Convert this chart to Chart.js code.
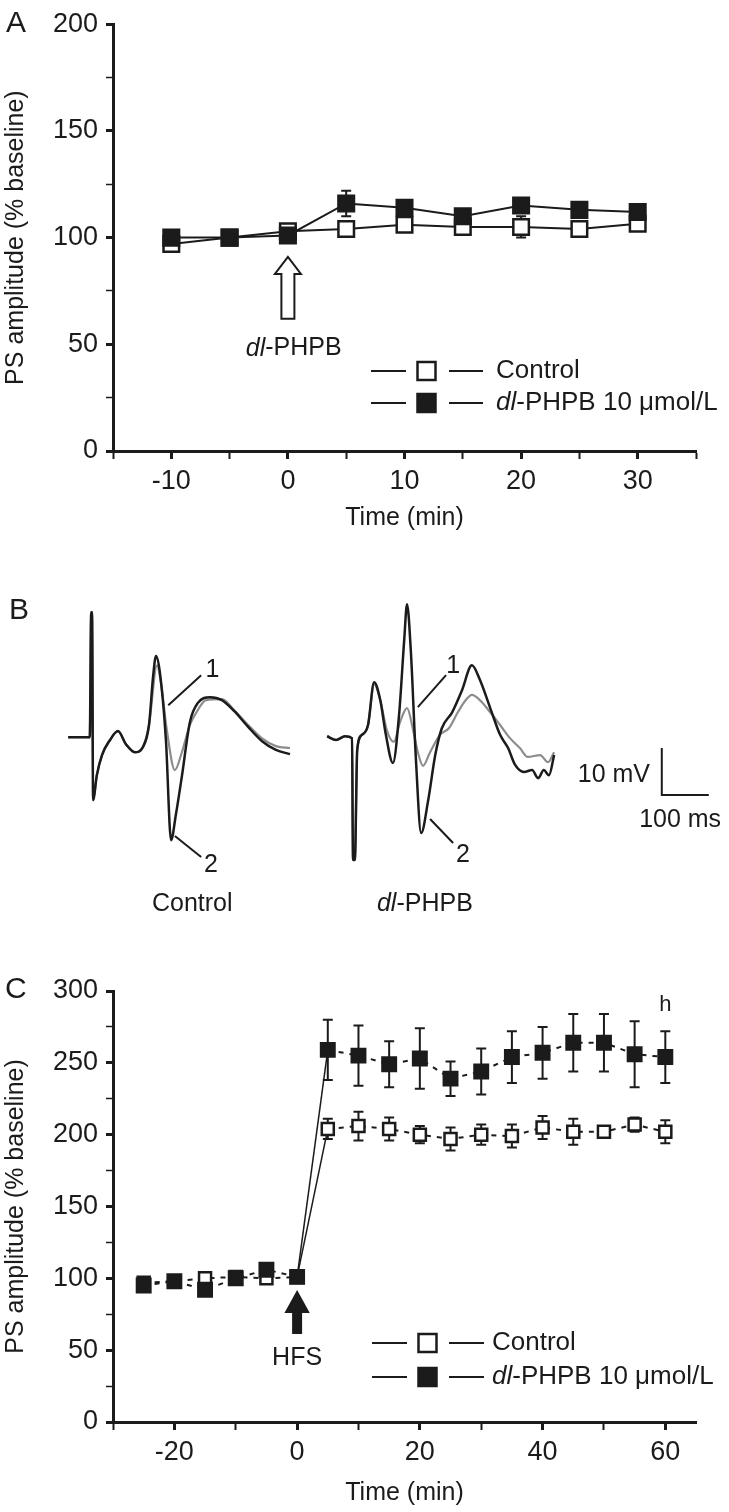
<!DOCTYPE html>
<html>
<head>
<meta charset="utf-8">
<title>PS amplitude – dl-PHPB</title>
<script src="https://cdn.jsdelivr.net/npm/chart.js@4.4.1/dist/chart.umd.min.js"></script>
<style>
  body { margin: 0; background: #fff; }
  #figure { position: relative; width: 729px; height: 1512px; }
  #figure canvas { position: absolute; left: 0; }
  .panel { position: absolute; font: 30px "Liberation Sans", Arial, sans-serif; line-height: 30px; color: #1b1b1b; }
</style>
</head>
<body>
<div id="figure">
  <canvas id="chartA" width="729" height="533" style="top:0"></canvas>
  <canvas id="chartB" width="729" height="400" style="top:560px"></canvas>
  <canvas id="chartC" width="729" height="548" style="top:960px"></canvas>
  <div class="panel" style="left:6px;top:7px">A</div>
  <div class="panel" style="left:9px;top:594px">B</div>
  <div class="panel" style="left:5px;top:973px">C</div>
</div>
<script>
const FONT = '"Liberation Sans", Arial, sans-serif';
const INK = "#1b1b1b";
const GREY = "#8c8c8c";

// panel A: drug wash-in (min, % baseline)
const timeA = [-10, -5, 0, 5, 10, 15, 20, 25, 30];
const controlA = [97, 100, 103, 104, 106, 105, 105, 104, 106.5];
const controlErrA = [1, 1, 1, 2, 2, 1, 5, 2, 1];
const drugA = [100, 100, 101, 116, 114, 110, 115, 113, 112];
const drugErrA = [2, 1, 1, 6, 3, 2, 2, 2, 2];

// panel C: LTP after HFS (min, % baseline)
const timeC = [-25, -20, -15, -10, -5, 0, 5, 10, 15, 20, 25, 30, 35, 40, 45, 50, 55, 60];
const controlC = [97, 98, 100, 101, 100, 101, 204, 206, 204, 200, 197, 200, 199, 205, 202, 202, 207, 202];
const controlErrC = [2, 2, 2, 2, 2, 2, 7, 10, 8, 6, 8, 7, 8, 8, 9, 3, 5, 8];
const drugC = [95, 98, 92, 100, 106, 101, 259, 255, 249, 253, 239, 244, 254, 257, 264, 264, 256, 254];
const drugErrC = [2, 2, 2, 2, 2, 2, 21, 21, 16, 21, 12, 16, 18, 18, 20, 20, 23, 18];

// panel B: field potential traces [ms, mV]; 1 = before HFS (grey), 2 = after (black)
const controlTrace1 = [[145, 0.4], [187, 0.4], [191, 0.4], [194, 27], [196, 27], [198, -13], [206, -7.7], [217, -3.4], [234, -0.2], [251, 1.7], [268, -1.1], [287, -2.8], [304, -1.7], [317, 3.0], [334, 15.7], [343, 11.5], [355, 1.9], [372, -6.6], [387, -2.8], [404, 3.0], [421, 6.2], [438, 8.3], [472, 8.5], [498, 6.2], [528, 3.0], [557, 0.2], [587, -1.5], [617, -1.9]];
const controlTrace2 = [[145, 0.4], [187, 0.4], [191, 0.4], [194, 27], [196, 27], [198, -13], [206, -7.7], [217, -3.4], [234, -0.2], [251, 1.7], [268, -1.1], [287, -2.8], [304, -1.7], [317, 3.0], [326, 13.6], [332, 17.7], [340, 14.3], [353, -0.2], [364, -21.5], [374, -16.2], [387, -7.9], [404, 3.6], [421, 7.7], [447, 8.9], [472, 8.3], [498, 6.0], [528, 2.6], [557, -0.4], [587, -2.3], [617, -3.2]];
const drugTrace1 = [[696, 0.6], [715, -0.2], [734, 0.6], [749, 0.2], [751, -25.7], [755, -25.7], [760, -2.3], [770, 0.9], [783, 3.0], [796, 11.7], [809, 8.3], [823, 1.9], [838, -0.6], [851, 3.6], [866, 6.6], [879, 1.9], [889, -2.8], [900, -5.7], [915, -2.8], [936, 0.9], [955, 2.3], [974, 5.7], [991, 8.3], [1004, 9.4], [1021, 8.3], [1043, 5.7], [1064, 3.0], [1085, 0.2], [1106, -1.9], [1123, -3.8], [1149, -3.4], [1166, -4.9], [1179, -2.8]];
const drugTrace2 = [[696, 0.6], [715, -0.2], [734, 0.6], [749, 0.2], [751, -25.7], [755, -25.7], [760, -2.3], [770, 0.9], [783, 3.0], [796, 12.1], [809, 8.3], [821, 0.9], [836, -5.1], [849, 5.1], [860, 21.1], [866, 28.7], [874, 18.9], [885, -4.5], [896, -20.0], [911, -13.0], [926, -3.4], [940, 2.3], [962, 5.7], [983, 10.4], [1004, 15.7], [1021, 12.6], [1043, 6.6], [1064, 0.9], [1081, -1.9], [1096, -5.5], [1115, -7.0], [1132, -6.6], [1145, -8.3], [1157, -6.6], [1168, -7.7], [1179, -3.4]];
const scaleBar = [[1408, -1.9], [1408, -11.9], [1508, -11.9]];

const legendLabels = [
  { fill: "#fff", parts: [{ t: "Control" }] },
  { fill: INK, parts: [{ t: "dl", italic: true }, { t: "-PHPB 10 μmol/L" }] },
];

const xy = (xs, ys) => xs.map((x, i) => ({ x, y: ys[i] }));
const pairs = (arr) => arr.map(([x, y]) => ({ x, y }));

function drawParts(ctx, parts, x, y, align, size) {
  const fonts = parts.map((p) => `${p.italic ? "italic " : ""}${size}px ${FONT}`);
  const widths = parts.map((p, i) => { ctx.font = fonts[i]; return ctx.measureText(p.t).width; });
  const total = widths.reduce((a, b) => a + b, 0);
  let cx = align === "center" ? x - total / 2 : align === "right" ? x - total : x;
  ctx.fillStyle = INK;
  ctx.textBaseline = "middle";
  ctx.textAlign = "left";
  parts.forEach((p, i) => {
    ctx.font = fonts[i];
    ctx.fillText(p.t, cx, y);
    cx += widths[i];
  });
}

function drawArrow(ctx, x, yTip, yHead, yBase, headHalf, shaftHalf, filled) {
  ctx.beginPath();
  ctx.moveTo(x, yTip);
  ctx.lineTo(x + headHalf, yHead);
  ctx.lineTo(x + shaftHalf, yHead);
  ctx.lineTo(x + shaftHalf, yBase);
  ctx.lineTo(x - shaftHalf, yBase);
  ctx.lineTo(x - shaftHalf, yHead);
  ctx.lineTo(x - headHalf, yHead);
  ctx.closePath();
  ctx.fillStyle = filled ? INK : "#fff";
  ctx.fill();
  ctx.lineWidth = 2;
  ctx.strokeStyle = INK;
  ctx.stroke();
}

const errorBars = {
  id: "errorBars",
  beforeDatasetsDraw(chart) {
    const { ctx } = chart;
    const xs = chart.scales.x, ys = chart.scales.y;
    ctx.save();
    ctx.strokeStyle = INK;
    ctx.lineWidth = 2;
    chart.data.datasets.forEach((ds) => {
      if (!ds.errors) return;
      ds.data.forEach((p, i) => {
        const e = ds.errors[i];
        const px = xs.getPixelForValue(p.x);
        const top = ys.getPixelForValue(p.y + e);
        const bot = ys.getPixelForValue(p.y - e);
        ctx.beginPath();
        ctx.moveTo(px, top); ctx.lineTo(px, bot);
        ctx.moveTo(px - 5, top); ctx.lineTo(px + 5, top);
        ctx.moveTo(px - 5, bot); ctx.lineTo(px + 5, bot);
        ctx.stroke();
      });
    });
    ctx.restore();
  },
};

const figureNotes = {
  id: "figureNotes",
  afterDatasetsDraw(chart, args, opts) {
    const { ctx } = chart;
    const xs = chart.scales.x, ys = chart.scales.y;
    ctx.save();
    (opts.arrows || []).forEach((a) => {
      drawArrow(ctx, xs.getPixelForValue(a.x), ys.getPixelForValue(a.tip), ys.getPixelForValue(a.head),
        ys.getPixelForValue(a.base), a.headHalf, a.shaftHalf, a.filled);
    });
    (opts.leaders || []).forEach((l) => {
      ctx.strokeStyle = INK;
      ctx.lineWidth = 2;
      ctx.beginPath();
      ctx.moveTo(xs.getPixelForValue(l[0]), ys.getPixelForValue(l[1]));
      ctx.lineTo(xs.getPixelForValue(l[2]), ys.getPixelForValue(l[3]));
      ctx.stroke();
    });
    (opts.texts || []).forEach((t) => {
      drawParts(ctx, t.parts, xs.getPixelForValue(t.x), ys.getPixelForValue(t.y), t.align || "center", t.size || 25);
    });
    const lg = opts.legend;
    if (lg) {
      lg.rows.forEach((y, i) => {
        const item = legendLabels[i];
        ctx.strokeStyle = INK;
        ctx.lineWidth = 2;
        ctx.beginPath();
        ctx.moveTo(lg.lineA[0], y); ctx.lineTo(lg.lineA[1], y);
        ctx.moveTo(lg.lineB[0], y); ctx.lineTo(lg.lineB[1], y);
        ctx.stroke();
        const h = lg.box / 2;
        ctx.fillStyle = item.fill;
        ctx.lineWidth = 2.5;
        ctx.fillRect(lg.boxX - h, y - h, lg.box, lg.box);
        ctx.strokeRect(lg.boxX - h, y - h, lg.box, lg.box);
        drawParts(ctx, item.parts, lg.textX, y, "left", 26);
      });
    }
    ctx.restore();
  },
};

function plotScales(xMin, xMax, xStep, xLabelEvery, yMax, xHeight) {
  const tickFont = { family: FONT, size: 27 };
  const titleFont = { family: FONT, size: 25 };
  return {
    x: {
      type: "linear", min: xMin, max: xMax,
      ticks: {
        stepSize: xStep, autoSkip: false, includeBounds: false, maxRotation: 0, color: INK, font: tickFont, padding: 6,
        callback: (v) => (v % xLabelEvery === 0 ? v : ""),
      },
      grid: {
        drawOnChartArea: false, tickLength: 8, tickColor: INK,
        tickWidth: (c) => (c.tick && c.tick.value % xLabelEvery === 0 ? 3 : 2),
      },
      border: { color: INK, width: 3 },
      title: { display: true, text: "Time (min)", color: INK, font: titleFont, padding: { top: 0, bottom: 0 } },
      afterFit: (s) => { s.height = xHeight; },
    },
    y: {
      min: 0, max: yMax,
      ticks: {
        stepSize: 25, autoSkip: false, color: INK, font: tickFont, padding: 8,
        callback: (v) => (v % 50 === 0 ? v : ""),
      },
      grid: {
        drawOnChartArea: false, tickLength: 7, tickColor: INK,
        tickWidth: (c) => (c.tick && c.tick.value % 50 === 0 ? 3 : 1.5),
      },
      border: { color: INK, width: 3 },
      title: { display: true, text: "PS amplitude (% baseline)", color: INK, font: titleFont, padding: { top: 1, bottom: 0 } },
      afterFit: (s) => { s.width = 113; },
    },
  };
}

function markerSeries(data, filled, radius, extra) {
  return Object.assign({
    data,
    borderColor: INK,
    borderWidth: 2,
    pointStyle: "rect",
    pointRadius: radius,
    pointBorderWidth: 2.5,
    pointBorderColor: INK,
    pointBackgroundColor: filled ? INK : "#fff",
    order: filled ? 0 : 1,
  }, extra);
}

const baseOptions = {
  responsive: false,
  animation: false,
  devicePixelRatio: 1,
};

new Chart(document.getElementById("chartA"), {
  type: "line",
  data: {
    datasets: [
      markerSeries(xy(timeA, controlA), false, 11, { errors: controlErrA }),
      markerSeries(xy(timeA, drugA), true, 11, { errors: drugErrA }),
    ],
  },
  options: Object.assign({}, baseOptions, {
    layout: { padding: { top: 20, right: 33, left: 0, bottom: 0 } },
    scales: plotScales(-15, 35, 5, 10, 200, 82),
    plugins: {
      legend: { display: false },
      tooltip: { enabled: false },
      figureNotes: {
        arrows: [{ x: 0, tip: 91, head: 83, base: 62, headHalf: 13, shaftHalf: 6.5, filled: false }],
        texts: [{ x: 0.5, y: 48, parts: [{ t: "dl", italic: true }, { t: "-PHPB" }] }],
        legend: { rows: [371, 403], lineA: [371, 406], lineB: [449, 483], boxX: 426.5, box: 18, textX: 496 },
      },
    },
  }),
  plugins: [errorBars, figureNotes],
});

const dashAfterJump = { borderDash: (c) => (c.p0.parsed.x === 0 ? [] : [5, 6]), borderWidth: (c) => (c.p0.parsed.x === 0 ? 1.5 : 2) };

new Chart(document.getElementById("chartC"), {
  type: "line",
  data: {
    datasets: [
      markerSeries(xy(timeC, controlC), false, 8.5, { errors: controlErrC, segment: dashAfterJump }),
      markerSeries(xy(timeC, drugC), true, 9.5, { errors: drugErrC, segment: dashAfterJump }),
    ],
  },
  options: Object.assign({}, baseOptions, {
    layout: { padding: { top: 31, right: 33, left: 0, bottom: 0 } },
    scales: plotScales(-30, 65, 10, 20, 300, 86),
    plugins: {
      legend: { display: false },
      tooltip: { enabled: false },
      figureNotes: {
        arrows: [{ x: 0, tip: 90.5, head: 76.5, base: 62, headHalf: 11, shaftHalf: 4, filled: true }],
        texts: [
          { x: 0, y: 44.5, parts: [{ t: "HFS" }] },
          { x: 60, y: 290, parts: [{ t: "h" }], size: 22 },
        ],
        legend: { rows: [383, 417], lineA: [372, 407], lineB: [449, 484], boxX: 427.5, box: 18, textX: 492 },
      },
    },
  }),
  plugins: [errorBars, figureNotes],
});

function trace(arr, color, width, order) {
  return {
    data: pairs(arr), showLine: true, borderColor: color, borderWidth: width,
    pointRadius: 0, cubicInterpolationMode: "monotone", order,
  };
}

new Chart(document.getElementById("chartB"), {
  type: "scatter",
  data: {
    datasets: [
      trace(controlTrace2, INK, 2.5, 0),
      trace(drugTrace2, INK, 2.5, 0),
      trace(controlTrace1, GREY, 2.2, 1),
      trace(drugTrace1, GREY, 2.2, 1),
      { data: pairs(scaleBar), showLine: true, borderColor: INK, borderWidth: 2, pointRadius: 0, tension: 0 },
    ],
  },
  options: Object.assign({}, baseOptions, {
    layout: { padding: 0 },
    scales: {
      x: { type: "linear", display: false, min: 0, max: 1551 },
      y: { type: "linear", display: false, min: -47, max: 38.1 },
    },
    plugins: {
      legend: { display: false },
      tooltip: { enabled: false },
      figureNotes: {
        leaders: [[358, 7.2, 428, 13.6], [372, -20.6, 428, -25.1], [889, 6.8, 949, 13.6], [915, -17.0, 964, -22.1]],
        texts: [
          { x: 452, y: 14.7, parts: [{ t: "1" }] },
          { x: 449, y: -26.8, parts: [{ t: "2" }] },
          { x: 964, y: 15.5, parts: [{ t: "1" }] },
          { x: 985, y: -24.7, parts: [{ t: "2" }] },
          { x: 409, y: -35.1, parts: [{ t: "Control" }] },
          { x: 904, y: -35.1, parts: [{ t: "dl", italic: true }, { t: "-PHPB" }] },
          { x: 1383, y: -7.7, parts: [{ t: "10 mV" }], align: "right" },
          { x: 1447, y: -17.2, parts: [{ t: "100 ms" }] },
        ],
      },
    },
  }),
  plugins: [figureNotes],
});
</script>
</body>
</html>
